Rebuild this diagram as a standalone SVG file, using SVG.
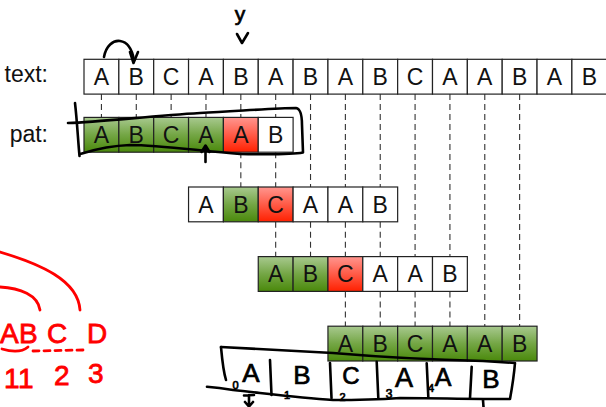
<svg xmlns="http://www.w3.org/2000/svg" width="606" height="407" viewBox="0 0 606 407">
<defs>
<linearGradient id="gg" x1="0" y1="0" x2="0" y2="1">
<stop offset="0" stop-color="#a8c98f"/>
<stop offset="0.5" stop-color="#74a645"/>
<stop offset="1" stop-color="#4a890b"/>
</linearGradient>
<linearGradient id="rg" x1="0" y1="0" x2="0" y2="1">
<stop offset="0" stop-color="#ff968f"/>
<stop offset="1" stop-color="#ff2000"/>
</linearGradient>
<style>
.w{fill:#fff;stroke:#222;stroke-width:1.2}
.g{fill:url(#gg);stroke:#222;stroke-width:1.2}
.r{fill:url(#rg);stroke:#222;stroke-width:1.2}
.t{font-family:"Liberation Sans",Arial,sans-serif;font-size:23px;fill:#111;text-anchor:middle}
.lbl{font-family:"Liberation Sans",Arial,sans-serif;font-size:23px;fill:#111;text-anchor:end}
.d{stroke:#333;stroke-width:1.1;stroke-dasharray:6 4;fill:none}
.ink{fill:none;stroke:#000;stroke-width:2.6;stroke-linecap:round;stroke-linejoin:round}
.red{fill:none;stroke:#f00;stroke-width:2.8;stroke-linecap:round;stroke-linejoin:round}
.hw{font-family:"Liberation Sans",Arial,sans-serif;fill:#000;stroke:#000;stroke-width:0.7}
.hr{font-family:"Liberation Sans",Arial,sans-serif;fill:#f00;stroke:#f00;stroke-width:0.8}
</style>
</defs>
<rect width="606" height="407" fill="#fff"/>
<g id="labels">
<text class="lbl" x="48" y="82">text:</text>
<text class="lbl" x="48" y="141.5">pat:</text>
</g>
<g id="connectors">
<path class="d" d="M101.43,94.1V117.4M136.28,94.1V117.4M171.13,94.1V117.4M205.98,94.1V117.4"/>
<path class="d" d="M240.83,94.1V117.4M240.83,152.2V187M275.68,94.1V117.4M275.68,152.2V187M275.68,221.8V256.6"/>
<path class="d" d="M310.53,94.1V187M310.53,221.8V256.6M345.38,94.1V187M345.38,221.8V256.6M345.38,291.4V326.2M380.23,94.1V187M380.23,221.8V256.6M380.23,291.4V326.2"/>
<path class="d" d="M415.08,94.1V256.6M415.08,291.4V326.2M449.93,94.1V256.6M449.93,291.4V326.2M484.78,94.1V326.2M519.63,94.1V326.2"/>
</g>
<g id="text-row">
<rect class="w" x="84" y="59.3" width="34.85" height="34.8"/><text class="t" x="101.43" y="84.9">A</text>
<rect class="w" x="118.85" y="59.3" width="34.85" height="34.8"/><text class="t" x="136.28" y="84.9">B</text>
<rect class="w" x="153.7" y="59.3" width="34.85" height="34.8"/><text class="t" x="171.13" y="84.9">C</text>
<rect class="w" x="188.55" y="59.3" width="34.85" height="34.8"/><text class="t" x="205.98" y="84.9">A</text>
<rect class="w" x="223.4" y="59.3" width="34.85" height="34.8"/><text class="t" x="240.83" y="84.9">B</text>
<rect class="w" x="258.25" y="59.3" width="34.85" height="34.8"/><text class="t" x="275.68" y="84.9">A</text>
<rect class="w" x="293.1" y="59.3" width="34.85" height="34.8"/><text class="t" x="310.53" y="84.9">B</text>
<rect class="w" x="327.95" y="59.3" width="34.85" height="34.8"/><text class="t" x="345.38" y="84.9">A</text>
<rect class="w" x="362.8" y="59.3" width="34.85" height="34.8"/><text class="t" x="380.23" y="84.9">B</text>
<rect class="w" x="397.65" y="59.3" width="34.85" height="34.8"/><text class="t" x="415.08" y="84.9">C</text>
<rect class="w" x="432.5" y="59.3" width="34.85" height="34.8"/><text class="t" x="449.93" y="84.9">A</text>
<rect class="w" x="467.35" y="59.3" width="34.85" height="34.8"/><text class="t" x="484.78" y="84.9">A</text>
<rect class="w" x="502.2" y="59.3" width="34.85" height="34.8"/><text class="t" x="519.63" y="84.9">B</text>
<rect class="w" x="537.05" y="59.3" width="34.85" height="34.8"/><text class="t" x="554.48" y="84.9">A</text>
<rect class="w" x="571.9" y="59.3" width="34.85" height="34.8"/><text class="t" x="589.33" y="84.9">B</text>
</g>
<g id="pat-1">
<rect class="g" x="84" y="117.4" width="34.85" height="34.8"/><text class="t" x="101.43" y="143">A</text>
<rect class="g" x="118.85" y="117.4" width="34.85" height="34.8"/><text class="t" x="136.28" y="143">B</text>
<rect class="g" x="153.7" y="117.4" width="34.85" height="34.8"/><text class="t" x="171.13" y="143">C</text>
<rect class="g" x="188.55" y="117.4" width="34.85" height="34.8"/><text class="t" x="205.98" y="143">A</text>
<rect class="r" x="223.4" y="117.4" width="34.85" height="34.8"/><text class="t" x="240.83" y="143">A</text>
<rect class="w" x="258.25" y="117.4" width="34.85" height="34.8"/><text class="t" x="275.68" y="143">B</text>
</g>
<g id="pat-2">
<rect class="w" x="188.55" y="187" width="34.85" height="34.8"/><text class="t" x="205.98" y="212.6">A</text>
<rect class="g" x="223.4" y="187" width="34.85" height="34.8"/><text class="t" x="240.83" y="212.6">B</text>
<rect class="r" x="258.25" y="187" width="34.85" height="34.8"/><text class="t" x="275.68" y="212.6">C</text>
<rect class="w" x="293.1" y="187" width="34.85" height="34.8"/><text class="t" x="310.53" y="212.6">A</text>
<rect class="w" x="327.95" y="187" width="34.85" height="34.8"/><text class="t" x="345.38" y="212.6">A</text>
<rect class="w" x="362.8" y="187" width="34.85" height="34.8"/><text class="t" x="380.23" y="212.6">B</text>
</g>
<g id="pat-3">
<rect class="g" x="258.25" y="256.6" width="34.85" height="34.8"/><text class="t" x="275.68" y="282.2">A</text>
<rect class="g" x="293.1" y="256.6" width="34.85" height="34.8"/><text class="t" x="310.53" y="282.2">B</text>
<rect class="r" x="327.95" y="256.6" width="34.85" height="34.8"/><text class="t" x="345.38" y="282.2">C</text>
<rect class="w" x="362.8" y="256.6" width="34.85" height="34.8"/><text class="t" x="380.23" y="282.2">A</text>
<rect class="w" x="397.65" y="256.6" width="34.85" height="34.8"/><text class="t" x="415.08" y="282.2">A</text>
<rect class="w" x="432.5" y="256.6" width="34.85" height="34.8"/><text class="t" x="449.93" y="282.2">B</text>
</g>
<g id="pat-4">
<rect class="g" x="327.95" y="326.2" width="34.85" height="34.8"/><text class="t" x="345.38" y="351.8">A</text>
<rect class="g" x="362.8" y="326.2" width="34.85" height="34.8"/><text class="t" x="380.23" y="351.8">B</text>
<rect class="g" x="397.65" y="326.2" width="34.85" height="34.8"/><text class="t" x="415.08" y="351.8">C</text>
<rect class="g" x="432.5" y="326.2" width="34.85" height="34.8"/><text class="t" x="449.93" y="351.8">A</text>
<rect class="g" x="467.35" y="326.2" width="34.85" height="34.8"/><text class="t" x="484.78" y="351.8">A</text>
<rect class="g" x="502.2" y="326.2" width="34.85" height="34.8"/><text class="t" x="519.63" y="351.8">B</text>
</g>
<g id="ink-black">
<path class="ink" d="M104,57 C106,46 113,40 120,41 C128,42 132,49 134,60"/>
<path class="ink" d="M130,52 L133.5,63 L138,52"/>
<text class="hw" x="240" y="21" font-size="21" text-anchor="middle">y</text>
<path class="ink" d="M237,34 L242,43 L248,33"/>
<path class="ink" d="M68,123 C100,122 150,116 200,113 C240,111 275,108 296,108 Q302,109 302,125 L303,152.5 Q290,155 240,154 C200,151 160,145 130,145 C105,146 90,151 80,154"/>
<path class="ink" d="M75,103 C77,120 78,140 79.5,156"/>
<path class="ink" d="M205.5,162 L205.5,147 M201.5,152 L205.5,145.5 L209.5,152"/>
<path class="ink" d="M221,347 C240,348 280,350 333,353 C380,357 440,360 483,361 L515,363 C514,375 512,388 510,399 C470,399 430,398 400,398 C370,400 345,400 333,400 C300,398 270,394 233,390 C222,388 212,387 207,386.7"/>
<path class="ink" d="M221,347 C222,358 223,370 226,380"/>
<path class="ink" d="M270,360 L271.5,395 M330,363 L331.5,398 M376.7,361.7 L378.3,398 M426.7,363.3 L428.3,396.7 M471.7,366.7 L470,398"/>
<text class="hw" x="251" y="381.5" font-size="26" text-anchor="middle">A</text>
<text class="hw" x="302" y="383.5" font-size="26" text-anchor="middle">B</text>
<text class="hw" x="351" y="383.5" font-size="24" text-anchor="middle">C</text>
<text class="hw" x="404" y="387" font-size="27" text-anchor="middle">A</text>
<text class="hw" x="443" y="385.5" font-size="25" text-anchor="middle">A</text>
<text class="hw" x="491" y="388" font-size="26" text-anchor="middle">B</text>
<text class="hw" x="235.5" y="389" font-size="11" text-anchor="middle">0</text>
<text class="hw" x="287" y="399" font-size="11" text-anchor="middle">1</text>
<text class="hw" x="342.5" y="401" font-size="11" text-anchor="middle">2</text>
<text class="hw" x="389" y="398" font-size="12" text-anchor="middle">3</text>
<text class="hw" x="431" y="392" font-size="11" text-anchor="middle">4</text>
<path class="ink" d="M244,395.5 L254,395 M249,395 L249,407 M245,402 L249,406.5 L253,402"/>
<path class="ink" d="M483,400 L483.5,407"/>
</g>
<g id="ink-red">
<path class="red" d="M0,252 C40,264 78,280 80,310"/>
<path class="red" d="M0,287 C20,288 38,295 40,310"/>
<text class="hr" x="0 19 47 87" y="343" font-size="28">ABCD</text>
<path class="red" d="M2,349 C12,352 22,352 28,347"/>
<path class="red" d="M33,351 L83,350 L84,346" stroke-dasharray="6 5"/>
<text class="hr" x="4 18" y="388" font-size="28">11</text>
<text class="hr" x="54" y="385" font-size="28">2</text>
<text class="hr" x="88" y="383" font-size="28">3</text>
</g>
</svg>
